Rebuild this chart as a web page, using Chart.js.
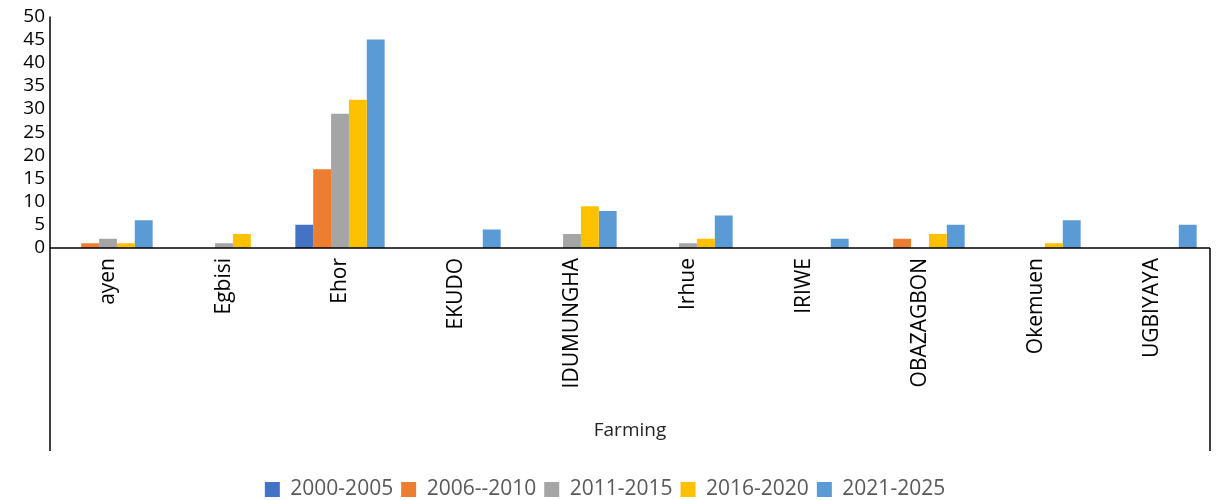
<!DOCTYPE html>
<html>
<head>
<meta charset="utf-8">
<script src="https://cdn.jsdelivr.net/npm/chart.js@4/dist/chart.umd.min.js"></script>
<style>
  html, body { margin: 0; padding: 0; background: #fff; }
  #wrap { width: 1217px; height: 500px; }
</style>
</head>
<body>
<div id="wrap"><canvas id="c"></canvas></div>
<script>
const categories = ["ayen", "Egbisi", "Ehor", "EKUDO", "IDUMUNGHA", "Irhue", "IRIWE", "OBAZAGBON", "Okemuen", "UGBIYAYA"];
const seriesNames = ["2000-2005", "2006--2010", "2011-2015", "2016-2020", "2021-2025"];
const s2000_2005 = [0, 0, 5, 0, 0, 0, 0, 0, 0, 0];
const s2006_2010 = [1, 0, 17, 0, 0, 0, 0, 2, 0, 0];
const s2011_2015 = [2, 1, 29, 0, 3, 1, 0, 0, 0, 0];
const s2016_2020 = [1, 3, 32, 0, 9, 2, 0, 3, 1, 0];
const s2021_2025 = [6, 0, 45, 4, 8, 7, 2, 5, 6, 5];
const yTicks = [0, 5, 10, 15, 20, 25, 30, 35, 40, 45, 50];
const groupLabel = "Farming";
const colors = ["#4472C4", "#ED7D31", "#A5A5A5", "#FFC000", "#5B9BD5"];

const seriesValues = [s2000_2005, s2006_2010, s2011_2015, s2016_2020, s2021_2025];

const boxPlugin = {
  id: 'boxPlugin',
  afterDraw(chart) {
    const ctx = chart.ctx;
    const ca = chart.chartArea;
    const boxBottom = ca.bottom + 203;
    ctx.save();
    ctx.strokeStyle = '#000';
    ctx.lineWidth = 1.5;
    ctx.beginPath();
    ctx.moveTo(ca.left, ca.top);
    ctx.lineTo(ca.left, boxBottom);
    ctx.moveTo(ca.left, ca.bottom);
    ctx.lineTo(ca.right, ca.bottom);
    ctx.moveTo(ca.right, ca.bottom);
    ctx.lineTo(ca.right, boxBottom);
    ctx.stroke();
    ctx.restore();
  }
};

new Chart(document.getElementById('c'), {
  type: 'bar',
  data: {
    labels: categories,
    datasets: seriesNames.map((n, i) => ({
      label: n,
      data: seriesValues[i],
      backgroundColor: colors[i],
      borderWidth: 0,
      categoryPercentage: 0.77,
      barPercentage: 1.0
    }))
  },
  options: {
    responsive: true,
    maintainAspectRatio: false,
    animation: false,
    layout: { padding: { top: 15, right: 7, left: 0, bottom: -10 } },
    plugins: {
      legend: {
        position: 'bottom',
        labels: {
          boxWidth: 15,
          boxHeight: 15,
          padding: 8,
          color: '#595959',
          font: { family: 'Open Sans', size: 21 }
        }
      },
      tooltip: { enabled: false }
    },
    scales: {
      x: {
        grid: { display: false, drawTicks: false },
        border: { display: false },
        ticks: {
          minRotation: 90,
          maxRotation: 90,
          autoSkip: false,
          padding: 10,
          color: '#000',
          font: { family: 'Open Sans', size: 21 }
        },
        title: {
          display: true,
          text: groupLabel,
          color: '#222',
          font: { family: 'Open Sans', size: 19 },
          padding: { top: 0, bottom: 29 }
        },
        afterFit(scale) { scale.height = 223; }
      },
      y: {
        min: 0,
        max: 50,
        grid: { display: false, drawTicks: false },
        border: { display: false },
        afterBuildTicks(scale) { scale.ticks = yTicks.map(v => ({ value: v })); },
        ticks: {
          autoSkip: false,
          padding: 5,
          color: '#000',
          font: { family: 'Open Sans', size: 19 }
        },
        afterFit(scale) { scale.width = 50; }
      }
    }
  },
  plugins: [boxPlugin]
});
</script>
</body>
</html>
